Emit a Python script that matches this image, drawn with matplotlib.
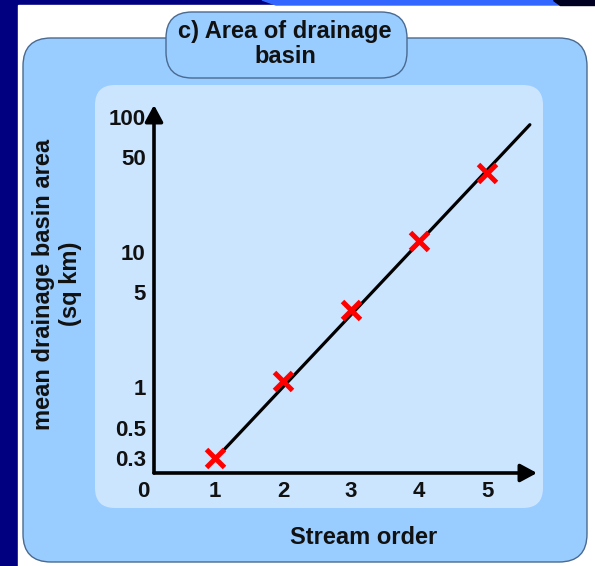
import matplotlib.pyplot as plt
from matplotlib.patches import FancyBboxPatch, Rectangle, Polygon

# data
stream_order = [1, 2, 3, 4, 5]
basin_area = [0.3, 1.1, 3.7, 12, 38]
fit_x = [1.1, 5.63]
fit_y = [0.33, 87]
y_ticks = [0.3, 0.5, 1, 5, 10, 50, 100]
y_tick_labels = ['0.3', '0.5', '1', '5', '10', '50', '100']
x_ticks = [1, 2, 3, 4, 5]

plt.rcParams['font.family'] = ['Liberation Sans', 'DejaVu Sans']
plt.rcParams['font.weight'] = 'bold'

W, H = 595, 566
fig = plt.figure(figsize=(W / 100, H / 100), dpi=100)
fig.patch.set_facecolor('#000080')

# background drawn in pixel units
bg = fig.add_axes([0, 0, 1, 1])
bg.set_xlim(0, W)
bg.set_ylim(H, 0)
bg.axis('off')
bg.add_patch(Rectangle((18, 5), W - 18, H - 5, color='white'))
bg.add_patch(Polygon([(262, 0), (553, 0), (560, 5), (276, 5)], color='#3366FF'))
bg.add_patch(Polygon([(553, 0), (W, 0), (W, 5), (560, 5)], color='#000022'))
bg.add_patch(FancyBboxPatch((23, 38), 564, 524, boxstyle='round,pad=0,rounding_size=28',
                            fc='#99CCFF', ec='#4A6A90', lw=1.0))
bg.add_patch(FancyBboxPatch((166, 12), 241, 66, boxstyle='round,pad=0,rounding_size=26',
                            fc='#99CCFF', ec='#4A6A90', lw=1.0))
bg.add_patch(FancyBboxPatch((95, 85), 448, 423, boxstyle='round,pad=0,rounding_size=20',
                            fc='#CCE5FF', ec='none'))
bg.text(285, 44, 'c) Area of drainage\nbasin', ha='center', va='center',
        fontsize=17, fontweight='bold', color='#111111', linespacing=1.1)
bg.text(57, 284, 'mean drainage basin area\n(sq km)', ha='center', va='center',
        rotation=90, fontsize=17, fontweight='bold', color='#111111', linespacing=1.2)
bg.text(364, 538, 'Stream order', ha='center', va='center',
        fontsize=17, fontweight='bold', color='#111111')

# the chart itself
ax = fig.add_axes([154 / W, (H - 473) / H, (537 - 154) / W, (473 - 105) / H])
ax.patch.set_alpha(0)
ax.set_yscale('log')
ax.set_xlim(0.103, 5.735)
ax.set_ylim(0.231, 121.7)
for s in ax.spines.values():
    s.set_visible(False)

ax.plot(fit_x, fit_y, color='black', lw=2.3, solid_capstyle='round', zorder=2)
ax.plot(stream_order, basin_area, ls='none', marker='x', ms=12.5, mew=3.6,
        color='#FF0000', zorder=3)

ax.set_yticks(y_ticks)
ax.set_yticklabels(y_tick_labels)
ax.minorticks_off()
ax.set_xticks(x_ticks)
ax.tick_params(length=0, labelsize=16, pad=6, colors='#111111')
for lab in ax.get_xticklabels() + ax.get_yticklabels():
    lab.set_fontweight('bold')

arrow = dict(arrowstyle='-|>,head_length=0.5,head_width=0.27', lw=2.6, color='black',
             mutation_scale=20, shrinkA=0, shrinkB=0)
ax.annotate('', xy=(1, 0), xytext=(0, 0), xycoords='axes fraction', arrowprops=arrow)
ax.annotate('', xy=(0, 1), xytext=(0, 0), xycoords='axes fraction', arrowprops=arrow)
ax.annotate('0', xy=(0, 0), xycoords='axes fraction', xytext=(-3, -6),
            textcoords='offset points', ha='right', va='top', fontsize=16,
            fontweight='bold', color='#111111')

fig.savefig('out.png', dpi=100, facecolor=fig.get_facecolor())
